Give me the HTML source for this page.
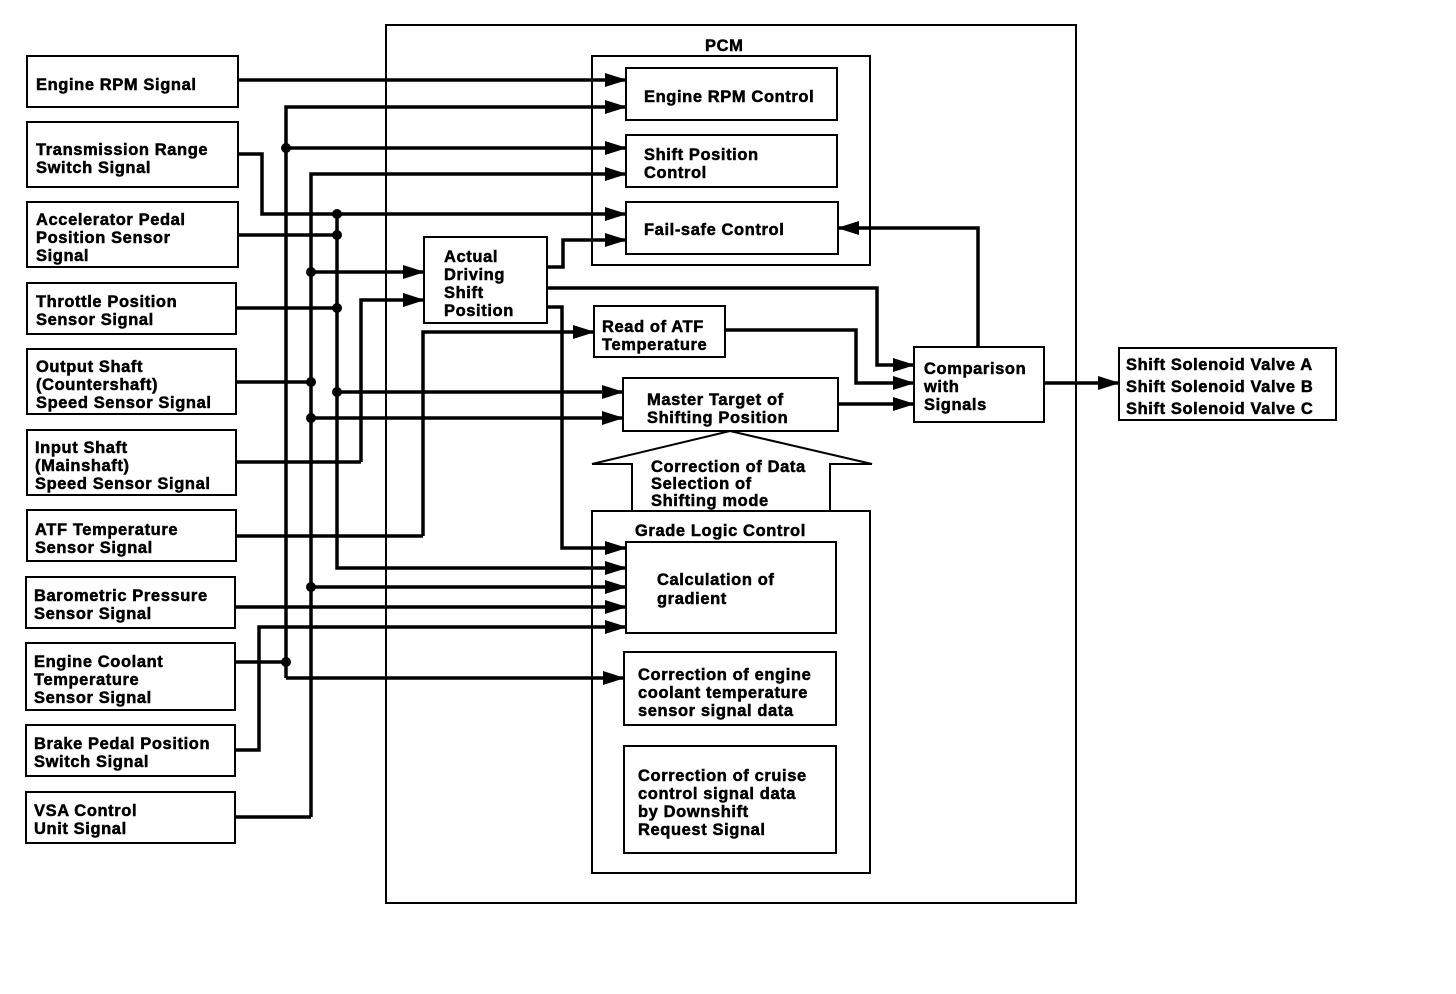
<!DOCTYPE html>
<html><head><meta charset="utf-8"><style>
html,body{margin:0;padding:0;background:#fff;}
svg{display:block;}
text{font-family:"Liberation Sans",Arial,sans-serif;font-weight:bold;font-size:16.5px;letter-spacing:0.6px;fill:#000;stroke:#000;stroke-width:0.5px;}
</style></head><body>
<svg width="1456" height="994" viewBox="0 0 1456 994" xmlns="http://www.w3.org/2000/svg">
<defs>
<marker id="a" markerUnits="userSpaceOnUse" markerWidth="22" markerHeight="16" refX="21" refY="8" orient="auto">
<path d="M0,1 L22,8 L0,15 Z" fill="#000"/>
</marker>
</defs>
<g fill="none" stroke="#000" stroke-width="2">
<rect x="27" y="56" width="211" height="51"/>
<rect x="27" y="122" width="211" height="65"/>
<rect x="27" y="202" width="211" height="65"/>
<rect x="27" y="283" width="209" height="51"/>
<rect x="27" y="349" width="209" height="65"/>
<rect x="27" y="430" width="209" height="65"/>
<rect x="27" y="510" width="209" height="51"/>
<rect x="26" y="577" width="209" height="51"/>
<rect x="26" y="643" width="209" height="67"/>
<rect x="26" y="725" width="209" height="51"/>
<rect x="26" y="792" width="209" height="51"/>
<rect x="386" y="25" width="690" height="878"/>
<rect x="592" y="56" width="278" height="209"/>
<rect x="626" y="68" width="211" height="52"/>
<rect x="626" y="135" width="211" height="52"/>
<rect x="626" y="202" width="212" height="52"/>
<rect x="424" y="237" width="123" height="86"/>
<rect x="594" y="306" width="131" height="51"/>
<rect x="623" y="378" width="215" height="53"/>
<rect x="914" y="347" width="130" height="75"/>
<rect x="1119" y="348" width="217" height="72"/>
<rect x="592" y="511" width="278" height="362"/>
<rect x="626" y="542" width="210" height="91"/>
<rect x="624" y="652" width="212" height="73"/>
<rect x="624" y="746" width="212" height="107"/>
<path d="M632,511 L632,464 L592,464 L730,431 L872,464 L830,464 L830,511"/>
</g>
<g fill="none" stroke="#000" stroke-width="3.5" stroke-linejoin="miter">
<path d="M238,80 H626" marker-end="url(#a)"/>
<path d="M286,678 V107 H626" marker-end="url(#a)"/>
<path d="M286,148 H626" marker-end="url(#a)"/>
<path d="M311,817 V174 H626" marker-end="url(#a)"/>
<path d="M238,154 H262 V214 H626" marker-end="url(#a)"/>
<path d="M547,267 H563 V240 H626" marker-end="url(#a)"/>
<path d="M311,272 H424" marker-end="url(#a)"/>
<path d="M361,462 V300 H424" marker-end="url(#a)"/>
<path d="M423,536 V332 H594" marker-end="url(#a)"/>
<path d="M337,392 H623" marker-end="url(#a)"/>
<path d="M311,418 H623" marker-end="url(#a)"/>
<path d="M547,307 H562 V548 H626" marker-end="url(#a)"/>
<path d="M337,214 V568 H626" marker-end="url(#a)"/>
<path d="M311,587 H626" marker-end="url(#a)"/>
<path d="M235,607 H626" marker-end="url(#a)"/>
<path d="M235,750 H259 V627 H626" marker-end="url(#a)"/>
<path d="M286,678 H624" marker-end="url(#a)"/>
<path d="M238,235 H337"/>
<path d="M236,308 H337"/>
<path d="M236,382 H311"/>
<path d="M236,462 H361"/>
<path d="M236,536 H423"/>
<path d="M235,662 H286"/>
<path d="M235,817 H311"/>
<path d="M547,288 H877 V365 H914" marker-end="url(#a)"/>
<path d="M725,330 H856 V383 H914" marker-end="url(#a)"/>
<path d="M838,404 H914" marker-end="url(#a)"/>
<path d="M978,347 V228 H838" marker-end="url(#a)"/>
<path d="M1044,383 H1119" marker-end="url(#a)"/>
</g>
<g fill="#000">
<circle cx="286" cy="148" r="5"/><circle cx="286" cy="662" r="5"/>
<circle cx="311" cy="272" r="5"/><circle cx="311" cy="382" r="5"/>
<circle cx="311" cy="418" r="5"/><circle cx="311" cy="587" r="5"/>
<circle cx="337" cy="214" r="5"/><circle cx="337" cy="235" r="5"/>
<circle cx="337" cy="308" r="5"/><circle cx="337" cy="392" r="5"/>
</g>
<g>
<text x="36" y="90">Engine RPM Signal</text>
<text x="36" y="155">Transmission Range</text><text x="36" y="173">Switch Signal</text>
<text x="36" y="225">Accelerator Pedal</text><text x="36" y="243">Position Sensor</text><text x="36" y="261">Signal</text>
<text x="36" y="307">Throttle Position</text><text x="36" y="325">Sensor Signal</text>
<text x="36" y="372">Output Shaft</text><text x="36" y="390">(Countershaft)</text><text x="36" y="408">Speed Sensor Signal</text>
<text x="35" y="453">Input Shaft</text><text x="35" y="471">(Mainshaft)</text><text x="35" y="489">Speed Sensor Signal</text>
<text x="35" y="535">ATF Temperature</text><text x="35" y="553">Sensor Signal</text>
<text x="34" y="601">Barometric Pressure</text><text x="34" y="619">Sensor Signal</text>
<text x="34" y="667">Engine Coolant</text><text x="34" y="685">Temperature</text><text x="34" y="703">Sensor Signal</text>
<text x="34" y="749">Brake Pedal Position</text><text x="34" y="767">Switch Signal</text>
<text x="34" y="816">VSA Control</text><text x="34" y="834">Unit Signal</text>
<text x="705" y="51">PCM</text>
<text x="644" y="102">Engine RPM Control</text>
<text x="644" y="160">Shift Position</text><text x="644" y="178">Control</text>
<text x="644" y="235">Fail-safe Control</text>
<text x="444" y="262">Actual</text><text x="444" y="280">Driving</text><text x="444" y="298">Shift</text><text x="444" y="316">Position</text>
<text x="602" y="332">Read of ATF</text><text x="602" y="350">Temperature</text>
<text x="647" y="405">Master Target of</text><text x="647" y="423">Shifting Position</text>
<text x="924" y="374">Comparison</text><text x="924" y="392">with</text><text x="924" y="410">Signals</text>
<text x="1126" y="370">Shift Solenoid Valve A</text><text x="1126" y="392">Shift Solenoid Valve B</text><text x="1126" y="414">Shift Solenoid Valve C</text>
<text x="651" y="472">Correction of Data</text><text x="651" y="489">Selection of</text><text x="651" y="506">Shifting mode</text>
<text x="635" y="536">Grade Logic Control</text>
<text x="657" y="585">Calculation of</text><text x="657" y="604">gradient</text>
<text x="638" y="680">Correction of engine</text><text x="638" y="698">coolant temperature</text><text x="638" y="716">sensor signal data</text>
<text x="638" y="781">Correction of cruise</text><text x="638" y="799">control signal data</text><text x="638" y="817">by Downshift</text><text x="638" y="835">Request Signal</text>
</g>
</svg>
</body></html>
